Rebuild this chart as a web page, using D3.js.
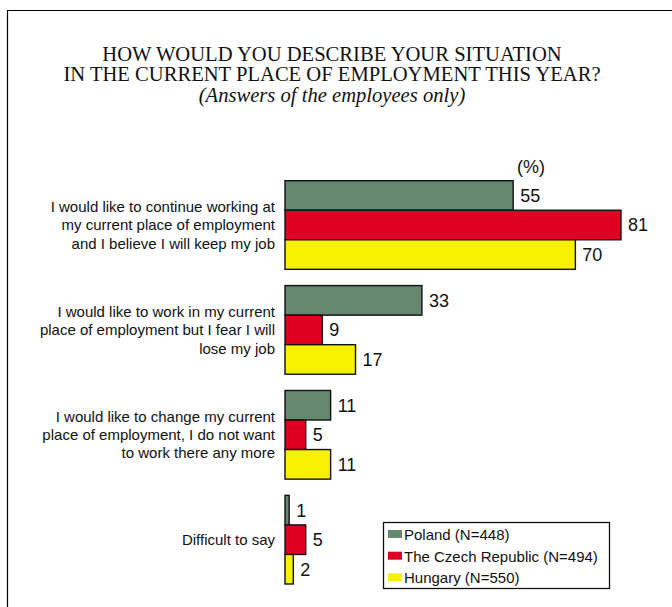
<!DOCTYPE html>
<html>
<head>
<meta charset="utf-8">
<script src="https://cdn.jsdelivr.net/npm/d3@7"></script>
<style>
  html, body { margin: 0; padding: 0; background: #fff; }
  svg { display: block; }
</style>
</head>
<body>
<div id="chart"></div>
<script>
// Survey answers, percent of employees per country
const categories = [
  ["I would like to continue working at", "my current place of employment", "and I believe I will keep my job"],
  ["I would like to work in my current", "place of employment but I fear I will", "lose my job"],
  ["I would like to change my current", "place of employment, I do not want", "to work there any more"],
  ["Difficult to say"]
];
const seriesNames = ["Poland (N=448)", "The Czech Republic (N=494)", "Hungary (N=550)"];
const seriesColors = ["#65876d", "#e00023", "#f7f000"];
const poland = [55, 33, 11, 1];
const czech = [81, 9, 5, 5];
const hungary = [70, 17, 11, 2];
const seriesValues = [poland, czech, hungary];
const titleLines = ["HOW WOULD YOU DESCRIBE YOUR SITUATION", "IN THE CURRENT PLACE OF EMPLOYMENT THIS YEAR?"];
const subtitle = "(Answers of the employees only)";
const unitLabel = "(%)";

const W = 672, H = 607;
const svg = d3.select("#chart").append("svg")
  .attr("width", W).attr("height", H);

// frame (left and top edges)
svg.append("path")
  .attr("d", `M7.5,${H} L7.5,10.5 L${W},10.5`)
  .attr("fill", "none").attr("stroke", "#000").attr("stroke-width", 1.2);

// title
const title = svg.append("g")
  .attr("font-family", "'Liberation Serif', 'Times New Roman', serif")
  .attr("font-size", 20.6).attr("fill", "#111").attr("text-anchor", "middle");
titleLines.forEach((t, i) => {
  title.append("text").attr("x", 332).attr("y", 60.8 + i * 20.4).text(t);
});
title.append("text").attr("x", 332).attr("y", 102)
  .attr("font-style", "italic").text(subtitle);

const idx = d3.range(categories.length);
const x = d3.scaleLinear().domain([0, 81]).range([285, 621]);
const y = d3.scaleBand().domain(idx).range([180.7, 584]).paddingInner(0.155).paddingOuter(0);
const ySub = d3.scaleBand().domain(d3.range(seriesNames.length)).range([0, y.bandwidth()]);

const font = "Arial, 'Liberation Sans', Helvetica, sans-serif";

// unit label
svg.append("text").attr("x", 531).attr("y", 173)
  .attr("font-family", font).attr("font-size", 18).attr("text-anchor", "middle")
  .attr("fill", "#111").text(unitLabel);

// bars
const groups = svg.selectAll("g.grp").data(idx).join("g")
  .attr("class", "grp")
  .attr("transform", d => `translate(0,${y(d)})`);

seriesValues.forEach((vals, s) => {
  groups.append("rect")
    .attr("x", x(0))
    .attr("y", ySub(s))
    .attr("width", d => x(vals[d]) - x(0))
    .attr("height", ySub.bandwidth())
    .attr("fill", seriesColors[s])
    .attr("stroke", "#111").attr("stroke-width", 1.4);
  groups.append("text")
    .attr("x", d => x(vals[d]) + 7)
    .attr("y", ySub(s) + ySub.bandwidth() / 2)
    .attr("dy", "0.36em")
    .attr("font-family", font).attr("font-size", 18).attr("fill", "#111")
    .text(d => vals[d]);
});

// category labels
groups.each(function (d) {
  const lines = categories[d];
  const lh = 18.4;
  const cy = y.bandwidth() / 2;
  const t = d3.select(this).append("text")
    .attr("font-family", font).attr("font-size", 15).attr("fill", "#111")
    .attr("text-anchor", "end");
  lines.forEach((ln, i) => {
    t.append("tspan").attr("x", 275)
      .attr("y", cy + (i - (lines.length - 1) / 2) * lh)
      .attr("dy", "0.35em").text(ln);
  });
});

// legend
const lg = svg.append("g");
lg.append("rect").attr("x", 383.5).attr("y", 522.5).attr("width", 226).attr("height", 66)
  .attr("fill", "#fff").attr("stroke", "#111").attr("stroke-width", 1.3);
seriesNames.forEach((n, i) => {
  const ry = 540 + i * 21.7;
  lg.append("rect").attr("x", 388).attr("y", ry - 10).attr("width", 14).attr("height", 8)
    .attr("fill", seriesColors[i]);
  lg.append("text").attr("x", 404).attr("y", ry)
    .attr("font-family", font).attr("font-size", 15).attr("fill", "#111").text(n);
});
</script>
</body>
</html>
